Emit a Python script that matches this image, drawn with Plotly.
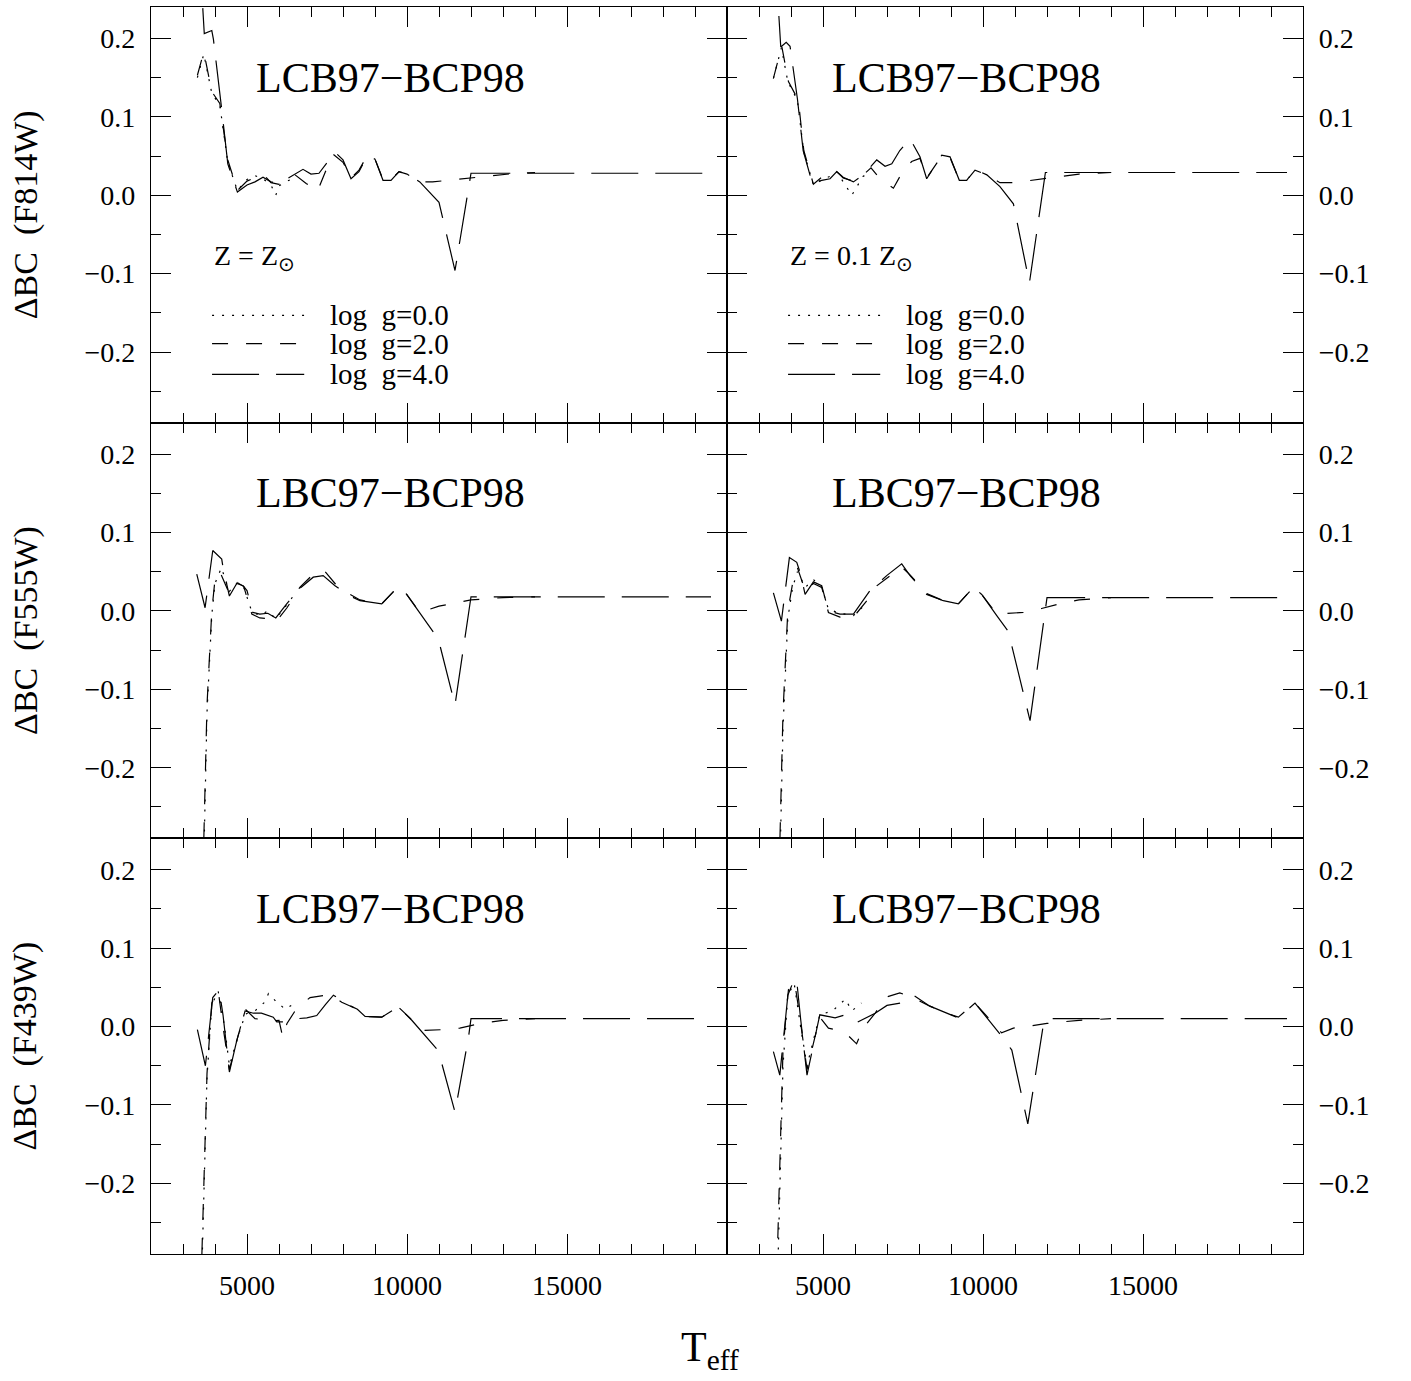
import plotly.graph_objects as go
from plotly.subplots import make_subplots

# ---------------------------------------------------------------
# Bolometric-correction differences (LCB97 - BCP98) versus Teff
# g0 / g2 / g4 : log g = 0.0 / 2.0 / 4.0
# ---------------------------------------------------------------

# F814W, Z = Zsun
t814_sun_g0 = [3450, 3650, 3900, 4150, 4400, 4700, 5000, 5250, 5500, 5750, 5900, 6000, 6250, 6500]
bc814_sun_g0 = [0.150, 0.180, 0.130, 0.115, 0.042, 0.006, 0.020, 0.025, 0.021, 0.013, 0.000, 0.012, 0.018, 0.022]
t814_sun_g2 = [3450, 3650, 3900, 4150, 4400, 4700, 5000, 5250, 5500, 5750, 6000, 6250, 6500, 6850, 7200,
               7450, 7700, 8000, 8250, 8500, 8750, 9000, 9250, 9500, 9750, 10000, 10400, 10800, 11250,
               11850, 12300, 12900, 13400, 14000]
bc814_sun_g2 = [0.153, 0.183, 0.132, 0.117, 0.045, 0.006, 0.018, 0.022, 0.027, 0.016, 0.014, 0.020, 0.026, 0.015, 0.005,
                0.030, 0.052, 0.042, 0.022, 0.032, 0.050, 0.046, 0.020, 0.020, 0.030, 0.027, 0.017, 0.017, 0.019,
                0.021, 0.023, 0.026, 0.028, 0.029]
t814_sun_g4 = [3500, 3665, 3900, 3950, 4200, 4400, 4700, 5000, 5250, 5500, 5750, 6000, 6250, 6750, 7000, 7250,
               7750, 8000, 8250, 8500, 8750, 9000, 9250, 9500, 9750, 10000, 10400, 11000, 11500, 12000, 13000,
               14000, 15000, 16000, 17000, 18000, 19000, 19500]
bc814_sun_g4 = [0.320, 0.206, 0.210, 0.199, 0.113, 0.040, 0.004, 0.013, 0.017, 0.023, 0.017, 0.015, 0.021, 0.033, 0.027, 0.028,
                0.055, 0.045, 0.021, 0.030, 0.050, 0.046, 0.019, 0.019, 0.030, 0.027, 0.017, -0.009, -0.096, 0.028, 0.028,
                0.028, 0.028, 0.028, 0.028, 0.028, 0.028, 0.028]

# F814W, Z = 0.1 Zsun
t814_low_g0 = [3450, 3700, 3900, 4200, 4400, 4700, 4960, 5220, 5430, 5630, 5900, 6250, 6500]
bc814_low_g0 = [0.149, 0.188, 0.145, 0.121, 0.055, 0.013, 0.020, 0.024, 0.030, 0.017, 0.000, 0.024, 0.030]
t814_low_g2 = [3450, 3710, 3920, 4230, 4400, 4700, 4960, 5220, 5430, 5630, 5950, 6260, 6500, 6780, 7200, 7460,
               7770, 8030, 8240, 8710, 8970, 9260, 9490, 9750, 10120, 10530, 10950, 11500, 12000, 12500, 13000, 14000]
bc814_low_g2 = [0.149, 0.190, 0.145, 0.121, 0.057, 0.014, 0.023, 0.026, 0.030, 0.022, 0.018, 0.026, 0.035, 0.021, 0.009, 0.028,
                0.043, 0.047, 0.022, 0.050, 0.048, 0.019, 0.019, 0.032, 0.026, 0.016, 0.016, 0.019, 0.022, 0.025, 0.027, 0.029]
t814_low_g4 = [3500, 3680, 3850, 3970, 4200, 4380, 4680, 4960, 5220, 5430, 5630, 5950, 6260, 6680, 6940, 7150,
               7400, 7720, 8030, 8240, 8710, 8970, 9260, 9490, 9750, 10120, 10530, 10950, 11450, 11950, 13000,
               14000, 15000, 16000, 17000, 18000, 19000, 19500]
bc814_low_g4 = [0.310, 0.189, 0.195, 0.190, 0.123, 0.057, 0.013, 0.019, 0.021, 0.030, 0.023, 0.017, 0.026, 0.045, 0.037, 0.040,
                0.057, 0.072, 0.049, 0.021, 0.051, 0.049, 0.019, 0.019, 0.033, 0.026, 0.011, -0.011, -0.112, 0.029, 0.029,
                0.029, 0.029, 0.029, 0.029, 0.029, 0.029, 0.029]

# F555W, Z = Zsun
t555_sun_g0 = [3500, 3750, 3900, 4000, 4200, 4450, 4700, 4900, 5150, 5400, 5650, 5900, 6250, 6500]
bc555_sun_g0 = [-0.600, -0.130, -0.005, 0.035, 0.055, 0.025, 0.036, 0.030, -0.001, -0.006, 0.000, -0.010, 0.008, 0.022]
t555_sun_g2 = [3500, 3750, 3900, 4000, 4150, 4300, 4450, 4700, 4900, 5150, 5400, 5650, 5900, 6250, 6650, 7050,
               7400, 7750, 8220, 8530, 9210, 9730, 9990, 10400, 11000, 12000, 13000, 14000]
bc555_sun_g2 = [-0.550, -0.120, 0.000, 0.040, 0.050, 0.035, 0.022, 0.036, 0.031, -0.004, -0.009, -0.010, -0.014, 0.004, 0.030, 0.046,
                0.052, 0.035, 0.021, 0.014, 0.009, 0.031, 0.021, -0.002, 0.006, 0.014, 0.017, 0.018]
t555_sun_g4 = [3430, 3690, 3930, 4210, 4260, 4450, 4680, 4880, 5000, 5180, 5400, 5650, 5900, 6240, 6630, 7070,
               7380, 7750, 8220, 8530, 9210, 9730, 9990, 10400, 10980, 11500, 12000, 13000, 14000, 15000, 16000,
               17000, 18000, 19000, 19500]
bc555_sun_g4 = [0.047, 0.004, 0.077, 0.066, 0.053, 0.019, 0.035, 0.032, 0.026, -0.002, -0.004, -0.003, -0.009, 0.009, 0.028, 0.043,
                0.045, 0.032, 0.019, 0.013, 0.009, 0.031, 0.021, -0.002, -0.036, -0.120, 0.018, 0.018, 0.018, 0.018, 0.018,
                0.018, 0.018, 0.018, 0.018]

# F555W, Z = 0.1 Zsun
t555_low_g0 = [3500, 3750, 3900, 4050, 4200, 4450, 4700, 4960, 5170, 5530, 5950, 6370]
bc555_low_g0 = [-0.600, -0.150, -0.010, 0.030, 0.050, 0.030, 0.040, 0.030, 0.002, -0.003, -0.006, 0.010]
t555_low_g2 = [3500, 3750, 3900, 4050, 4200, 4450, 4700, 4960, 5170, 5530, 5950, 6370, 6680, 6990, 7460, 7720,
               8240, 8760, 9230, 9700, 9960, 10430, 11260, 11830, 12500, 13000, 14000]
bc555_low_g2 = [-0.550, -0.130, 0.000, 0.035, 0.055, 0.025, 0.035, 0.030, -0.002, -0.008, -0.008, 0.013, 0.032, 0.042, 0.056, 0.046,
                0.022, 0.013, 0.009, 0.030, 0.021, -0.004, -0.002, 0.003, 0.010, 0.014, 0.017]
t555_low_g4 = [3450, 3700, 3950, 4180, 4300, 4440, 4700, 4960, 5170, 5530, 5950, 6210, 6470, 6990, 7460, 7720,
               8240, 8760, 9230, 9700, 9960, 10430, 10790, 11470, 12000, 13000, 14000, 15000, 16000, 17000,
               18000, 19000, 19500]
bc555_low_g4 = [0.023, -0.013, 0.068, 0.062, 0.047, 0.021, 0.037, 0.032, 0.000, -0.004, -0.004, 0.011, 0.026, 0.045, 0.060, 0.045,
                0.021, 0.013, 0.009, 0.030, 0.021, -0.006, -0.026, -0.140, 0.017, 0.017, 0.017, 0.017, 0.017, 0.017,
                0.017, 0.017, 0.017]

# F439W, Z = Zsun
t439_sun_g0 = [3500, 3750, 3900, 4100, 4300, 4450, 4700, 4950, 5250, 5550, 5670, 5930, 6200, 6500]
bc439_sun_g0 = [-0.450, -0.065, 0.028, 0.045, 0.000, -0.050, -0.015, 0.016, 0.020, 0.031, 0.042, 0.031, 0.022, 0.030]
t439_sun_g2 = [3500, 3750, 3900, 4100, 4250, 4450, 4700, 4950, 5250, 5500, 5750, 6000, 6120, 6250, 6550, 6970,
               7450, 7700, 7960, 8200, 8450, 8690, 9210, 9730, 9830, 10150, 10500, 11100, 11650, 12300, 13000, 14000]
bc439_sun_g2 = [-0.420, -0.060, 0.030, 0.046, 0.000, -0.055, -0.015, 0.022, 0.010, 0.009, 0.007, 0.008, -0.014, 0.004, 0.023, 0.037,
                0.040, 0.038, 0.031, 0.027, 0.022, 0.013, 0.012, 0.025, 0.021, 0.008, -0.005, -0.004, -0.002, 0.004, 0.008, 0.010]
t439_sun_g4 = [3450, 3700, 3930, 4130, 4250, 4450, 4680, 4940, 5200, 5450, 5820, 5930, 6240, 6550, 6870, 7180,
               7450, 7700, 7960, 8200, 8450, 8690, 9210, 9730, 9830, 10150, 10980, 11500, 11920, 12000, 13000,
               14000, 15000, 16000, 17000, 18000, 19000, 19500]
bc439_sun_g4 = [-0.004, -0.050, 0.037, 0.047, 0.015, -0.058, -0.018, 0.020, 0.017, 0.017, 0.012, 0.006, 0.006, 0.010, 0.011, 0.014,
                0.028, 0.040, 0.033, 0.027, 0.022, 0.013, 0.012, 0.025, 0.021, 0.008, -0.031, -0.109, -0.014, 0.010, 0.010,
                0.010, 0.010, 0.010, 0.010, 0.010, 0.010, 0.010]

# F439W, Z = 0.1 Zsun
t439_low_g0 = [3500, 3750, 3900, 4100, 4300, 4500, 4900, 5300, 5700, 5900, 6200]
bc439_low_g0 = [-0.450, -0.050, 0.040, 0.055, 0.000, -0.050, 0.015, 0.020, 0.035, 0.020, 0.030]
t439_low_g2 = [3500, 3750, 3900, 4100, 4250, 4500, 4900, 5170, 5400, 5800, 6050, 6250, 6630, 6940, 7400, 7800,
               8340, 8800, 9230, 9750, 10580, 10950, 11500, 12000, 13000, 14000]
bc439_low_g2 = [-0.400, -0.030, 0.040, 0.060, 0.020, -0.055, 0.012, -0.002, -0.004, -0.012, -0.022, -0.002, 0.017, 0.037, 0.043, 0.037,
                0.026, 0.018, 0.012, 0.030, -0.008, -0.002, 0.001, 0.004, 0.008, 0.010]
t439_low_g4 = [3450, 3650, 3920, 4180, 4300, 4500, 4900, 5380, 5690, 6050, 6630, 7000, 7410, 7820, 8340, 8800,
               9230, 9750, 10580, 10900, 11400, 11900, 12000, 13000, 14000, 15000, 16000, 17000, 18000, 19000, 19500]
bc439_low_g4 = [-0.032, -0.062, 0.047, 0.058, 0.010, -0.062, 0.015, 0.011, 0.015, 0.005, 0.017, 0.027, 0.030, 0.040, 0.026, 0.018,
                0.011, 0.030, -0.012, -0.030, -0.124, 0.006, 0.010, 0.010, 0.010, 0.010, 0.010, 0.010, 0.010, 0.010, 0.010]

# Axis ticks and labels
teff_ticks = [5000, 10000, 15000]
teff_tick_text = ["5000", "10000", "15000"]
bc_ticks = [-0.2, -0.1, 0.0, 0.1, 0.2]
bc_tick_text = ["\u22120.2", "\u22120.1", "0.0", "0.1", "0.2"]
bc_minor_ticks = [-0.25, -0.15, -0.05, 0.05, 0.15]

filters = ["F814W", "F555W", "F439W"]
panel_titles = ["LCB97\u2212BCP98", "LBC97\u2212BCP98", "LCB97\u2212BCP98"]
metallicity_labels = ["Z = Z<sub>\u2299</sub>", "Z = 0.1 Z<sub>\u2299</sub>"]
gravity_labels = ["log\u00a0 g=0.0", "log\u00a0 g=2.0", "log\u00a0 g=4.0"]

FONT = "Liberation Serif"
DASH = ["2px,8px", "16px,18px", "47px,17px"]

panels = [
    (1, 1, [(t814_sun_g0, bc814_sun_g0), (t814_sun_g2, bc814_sun_g2), (t814_sun_g4, bc814_sun_g4)]),
    (1, 2, [(t814_low_g0, bc814_low_g0), (t814_low_g2, bc814_low_g2), (t814_low_g4, bc814_low_g4)]),
    (2, 1, [(t555_sun_g0, bc555_sun_g0), (t555_sun_g2, bc555_sun_g2), (t555_sun_g4, bc555_sun_g4)]),
    (2, 2, [(t555_low_g0, bc555_low_g0), (t555_low_g2, bc555_low_g2), (t555_low_g4, bc555_low_g4)]),
    (3, 1, [(t439_sun_g0, bc439_sun_g0), (t439_sun_g2, bc439_sun_g2), (t439_sun_g4, bc439_sun_g4)]),
    (3, 2, [(t439_low_g0, bc439_low_g0), (t439_low_g2, bc439_low_g2), (t439_low_g4, bc439_low_g4)]),
]

fig = make_subplots(rows=3, cols=2, horizontal_spacing=0, vertical_spacing=0)

for row, col, series in panels:
    for k, (t, bc) in enumerate(series):
        fig.add_trace(
            go.Scatter(x=t, y=bc, mode="lines",
                       line=dict(color="black", width=1.2, dash=DASH[k]),
                       hoverinfo="skip", showlegend=False),
            row=row, col=col)

tick_font = dict(family=FONT, size=28, color="black")

fig.update_xaxes(
    range=[2000, 20000], tickmode="array", tickvals=teff_ticks, ticktext=teff_tick_text,
    ticks="inside", ticklen=20, tickwidth=1.3, tickcolor="black",
    showline=True, linewidth=1.3, linecolor="black", mirror="allticks",
    showgrid=False, zeroline=False, showticklabels=False,
    minor=dict(tickmode="linear", tick0=0, dtick=1000, ticks="inside", ticklen=10,
               tickwidth=1.3, tickcolor="black", showgrid=False),
    tickfont=tick_font, ticklabelstandoff=6)
fig.update_xaxes(showticklabels=True, row=3)

fig.update_yaxes(
    range=[-0.29, 0.24], tickmode="array", tickvals=bc_ticks, ticktext=bc_tick_text,
    ticks="inside", ticklen=20, tickwidth=1.3, tickcolor="black",
    showline=True, linewidth=1.3, linecolor="black", mirror="allticks",
    showgrid=False, zeroline=False, showticklabels=True,
    minor=dict(tickmode="array", tickvals=bc_minor_ticks, ticks="inside", ticklen=10,
               tickwidth=1.3, tickcolor="black", showgrid=False),
    tickfont=tick_font, ticklabelstandoff=9)
fig.update_yaxes(side="right", col=2)

annotations = []
shapes = []

# panel titles
for row, col, _ in panels:
    n = (row - 1) * 2 + col
    sfx = "" if n == 1 else str(n)
    annotations.append(dict(
        text=panel_titles[row - 1], xref=f"x{sfx} domain", yref=f"y{sfx} domain",
        x=0.415, y=0.83, xanchor="center", yanchor="middle", showarrow=False,
        font=dict(family=FONT, size=42, color="black")))

# metallicity labels and line-style key in the top row
for col in (1, 2):
    sfx = "" if col == 1 else "2"
    annotations.append(dict(
        text=metallicity_labels[col - 1], xref=f"x{sfx} domain", yref=f"y{sfx} domain",
        x=0.106, y=0.398, xanchor="left", yanchor="middle", showarrow=False,
        font=dict(family=FONT, size=28, color="black")))
    for k, ky in enumerate([0.258, 0.190, 0.116]):
        shapes.append(dict(
            type="line", xref=f"x{sfx} domain", yref=f"y{sfx} domain",
            x0=0.106, x1=0.266, y0=ky, y1=ky,
            line=dict(color="black", width=1.2, dash=DASH[k])))
        annotations.append(dict(
            text=gravity_labels[k], xref=f"x{sfx} domain", yref=f"y{sfx} domain",
            x=0.308, y=ky, xanchor="left", yanchor="middle", showarrow=False,
            font=dict(family=FONT, size=29, color="black")))

# y-axis titles for each filter
for r, f in enumerate(filters):
    annotations.append(dict(
        text=f"\u0394BC\u00a0 ({f})", xref="paper", yref="paper",
        x=-0.109, y=1 - (2 * r + 1) / 6, xanchor="center", yanchor="middle",
        textangle=-90, showarrow=False, font=dict(family=FONT, size=34, color="black")))

# x-axis title
annotations.append(dict(
    text="T<sub>eff</sub>", xref="paper", yref="paper", x=0.485, y=-0.077,
    xanchor="center", yanchor="middle", showarrow=False,
    font=dict(family=FONT, size=42, color="black")))

fig.update_layout(
    width=1411, height=1381, autosize=False,
    margin=dict(l=151, r=108, t=7, b=127),
    plot_bgcolor="white", paper_bgcolor="white",
    showlegend=False, annotations=annotations, shapes=shapes)

fig.write_html("out.html")
